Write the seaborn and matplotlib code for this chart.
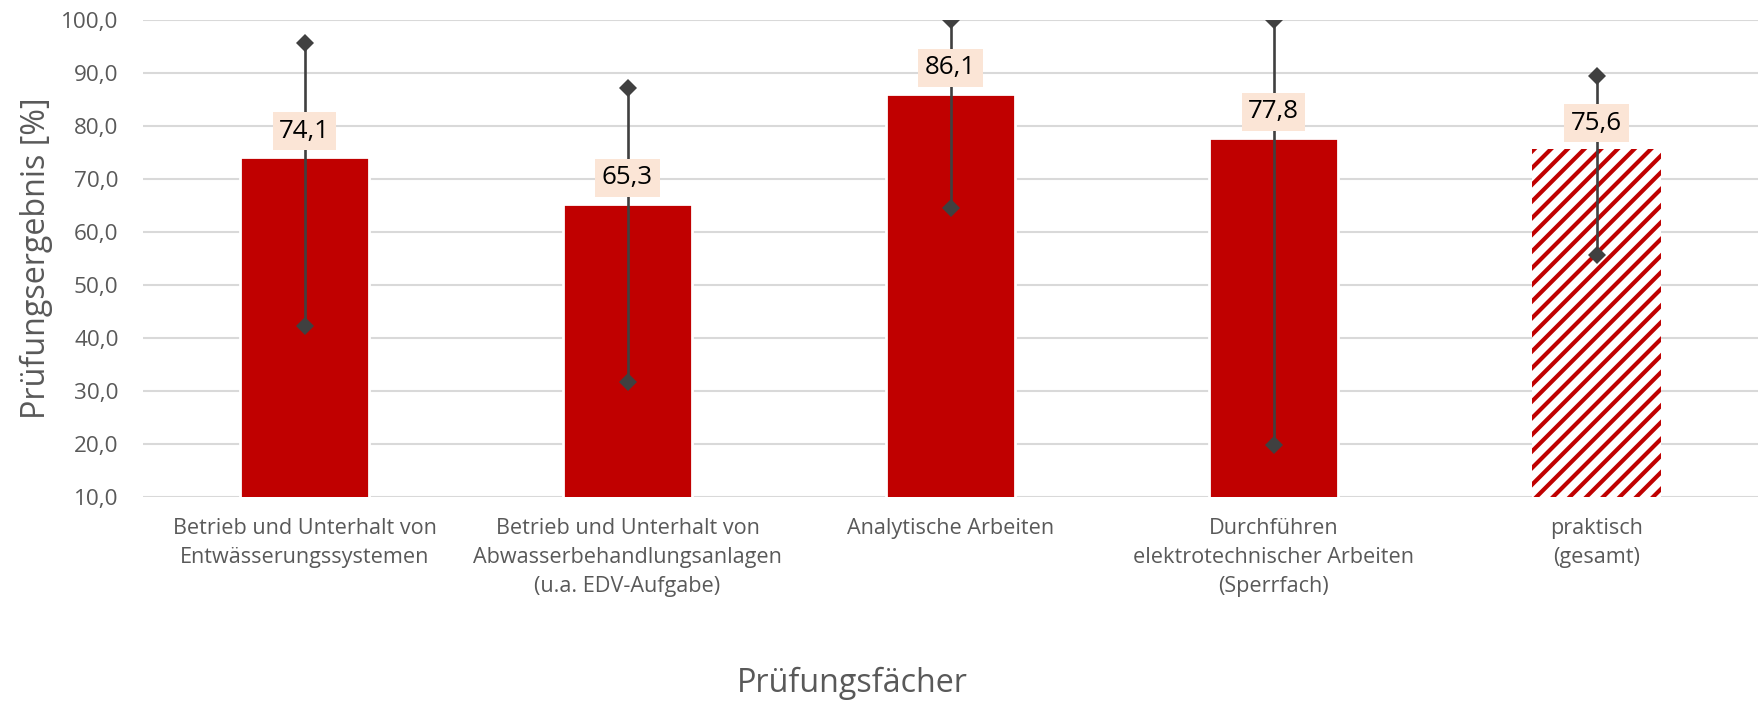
import matplotlib
matplotlib.use("Agg")
import matplotlib.pyplot as plt
import seaborn as sns
import pandas as pd
from matplotlib.ticker import FuncFormatter

categories = [
    "Betrieb und Unterhalt von\nEntwässerungssystemen",
    "Betrieb und Unterhalt von\nAbwasserbehandlungsanlagen\n(u.a. EDV-Aufgabe)",
    "Analytische Arbeiten",
    "Durchführen\nelektrotechnischer Arbeiten\n(Sperrfach)",
    "praktisch\n(gesamt)",
]
means = [74.1, 65.3, 86.1, 77.8, 75.6]
maxima = [95.7, 87.2, 100.0, 100.0, 89.4]
minima = [42.3, 31.7, 64.5, 19.8, 55.7]
value_labels = ["74,1", "65,3", "86,1", "77,8", "75,6"]

sns.set_theme(style="white")
plt.rcParams["font.family"] = ["Open Sans", "DejaVu Sans"]
plt.rcParams["hatch.linewidth"] = 1.5

RED = "#C00000"
GREY = "#595959"

fig = plt.figure(figsize=(8.8, 3.515), dpi=200)
ax = fig.add_axes([143 / 1760, 1 - 497 / 703, (1758 - 143) / 1760, (497 - 20) / 703])

df = pd.DataFrame({"cat": categories, "val": means})
sns.barplot(data=df, x="cat", y="val", color=RED, width=0.4, ax=ax,
            saturation=1, zorder=2)

last = ax.patches[-1]
last.set_facecolor("white")
last.set_edgecolor(RED)
last.set_hatch("////")
last.set_linewidth(0)

xs = list(range(len(categories)))
ax.vlines(xs, minima, maxima, color="#404040", lw=0.95, zorder=3)
ax.plot(xs, maxima, ls="none", marker="D", ms=4.8, color="#404040", mew=0, zorder=4)
ax.plot(xs, minima, ls="none", marker="D", ms=4.8, color="#404040", mew=0, zorder=4)

for x, m, lab in zip(xs, means, value_labels):
    ax.annotate(lab, (x, m), xytext=(0, 9.4), textcoords="offset points",
                ha="center", va="center", fontsize=9.3, color="black", zorder=5,
                bbox=dict(boxstyle="square,pad=0.25", fc="#FBE5D6", ec="none"))

ax.set_ylim(10, 100)
ax.set_xlim(-0.5, len(categories) - 0.5)
ax.set_yticks(range(10, 101, 10))
ax.yaxis.set_major_formatter(FuncFormatter(lambda v, p: f"{v:.1f}".replace(".", ",")))
ax.grid(axis="y", color="#D9D9D9", lw=0.75, zorder=0)
ax.set_axisbelow(True)
for s in ax.spines.values():
    s.set_visible(False)
ax.tick_params(axis="both", length=0, labelsize=7.8, labelcolor=GREY)
ax.tick_params(axis="y", labelsize=8.1, pad=8.8)
ax.tick_params(axis="x", pad=7.5)
for t in ax.get_xticklabels():
    t.set_linespacing(1.5)

ax.set_xlabel("Prüfungsfächer", fontsize=11.6, color=GREY)
ax.set_ylabel("Prüfungsergebnis [%]", fontsize=11.6, color=GREY)
ax.xaxis.label.set_va("baseline")
ax.yaxis.label.set_va("center")
ax.xaxis.set_label_coords((852 - 143) / 1615, (497 - 692) / 477)
ax.yaxis.set_label_coords((36 - 143) / 1615, 0.5)

fig.savefig("out.png", dpi=200)
